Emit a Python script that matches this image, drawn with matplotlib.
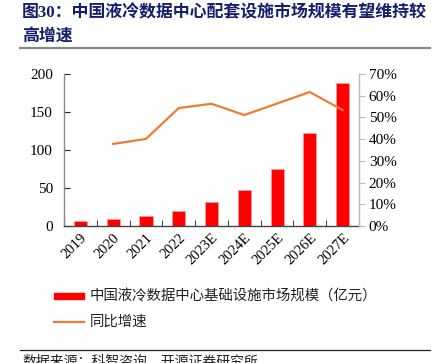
import matplotlib
matplotlib.use("Agg")
import matplotlib.pyplot as plt
from matplotlib.lines import Line2D
from matplotlib.patches import Rectangle
import numpy as np

plt.rcParams['font.family'] = ['Liberation Serif', 'Noto Sans CJK SC']

categories = ["2019", "2020", "2021", "2022", "2023E", "2024E", "2025E", "2026E", "2027E"]
market_size = [6.6, 9.1, 12.8, 20.1, 31.5, 48.0, 75.3, 122.3, 187.6]
growth = [np.nan, 37.8, 40.1, 54.3, 56.3, 51.1, 56.4, 61.7, 53.4]
left_ticks = [0, 50, 100, 150, 200]
right_ticks = [0, 10, 20, 30, 40, 50, 60, 70]

title_line1 = "图30：中国液冷数据中心配套设施市场规模有望维持较"
title_line2 = "高增速"
bar_label = "中国液冷数据中心基础设施市场规模（亿元）"
line_label = "同比增速"
source = "数据来源：科智咨询、开源证券研究所"

W, H = 443, 363
fig = plt.figure(figsize=(W / 100, H / 100), dpi=100)

def fx(px):
    return px / W

def fy(py):
    return 1 - py / H

ax = fig.add_axes([fx(64), fy(226), fx(359) - fx(64), fy(74) - fy(226)])
x = np.arange(len(categories))
ax.bar(x, market_size, width=0.4, color="#FF0000", edgecolor="#FF9999", linewidth=0.6, zorder=2)
ax.set_xlim(-0.5, len(categories) - 0.5)
ax.set_ylim(0, 200)
ax.set_yticks(left_ticks)
ax.set_yticklabels([str(t) for t in left_ticks], fontsize=11)
ax.set_xticks(x)
ax.set_xticklabels(categories, fontsize=10.5, rotation=45, ha="right", va="top", rotation_mode="anchor")
ax.set_xticks(np.arange(-0.5, len(categories), 1), minor=True)
ax.tick_params(axis="x", which="major", length=0, pad=4)
ax.tick_params(axis="x", which="minor", direction="in", length=4, color="#444444", width=0.8)
ax.tick_params(axis="y", direction="in", length=4, color="#222222", width=0.8, pad=8)
ax.spines["top"].set_visible(False)
ax.spines["right"].set_visible(False)
ax.spines["left"].set_color("#888888")
ax.spines["bottom"].set_color("#444444")
ax.spines["left"].set_linewidth(1.0)
ax.spines["bottom"].set_linewidth(1.0)

ax2 = ax.twinx()
ax2.plot(x, growth, color="#ED7D31", linewidth=1.6, zorder=3)
ax2.set_ylim(0, 70)
ax2.set_yticks(right_ticks)
ax2.set_yticklabels([f"{t}%" for t in right_ticks], fontsize=11)
ax2.tick_params(axis="y", direction="out", length=4, color="#BBBBBB", width=0.8, pad=3)
for s in ["top", "left", "bottom"]:
    ax2.spines[s].set_visible(False)
ax2.spines["right"].set_color("#BBBBBB")
ax2.spines["right"].set_linewidth(1.0)

title_color = "#14206E"
fig.text(fx(22), fy(13), title_line1, fontsize=12.2, fontweight="bold", color=title_color,
         ha="left", va="center")
fig.text(fx(22), fy(37), title_line2, fontsize=12.2, fontweight="bold", color=title_color,
         ha="left", va="center")
fig.add_artist(Line2D([fx(20), fx(430)], [fy(48), fy(48)], color="#888888", linewidth=1.6))

# legend
fig.add_artist(Rectangle((fx(54), fy(299)), fx(84) - fx(54), fy(293) - fy(299), color="#FF0000"))
fig.text(fx(90), fy(296), bar_label, fontsize=10.4, color="#222222", ha="left", va="center")
fig.add_artist(Line2D([fx(54), fx(84)], [fy(322), fy(322)], color="#ED7D31", linewidth=1.6))
fig.text(fx(90), fy(322), line_label, fontsize=10.4, color="#222222", ha="left", va="center")

fig.add_artist(Line2D([fx(20), fx(430)], [fy(350), fy(350)], color="#222222", linewidth=0.9))
fig.text(fx(22), fy(355), source, fontsize=10, color="#222222", ha="left", va="top")

fig.savefig("out.png", dpi=100)
